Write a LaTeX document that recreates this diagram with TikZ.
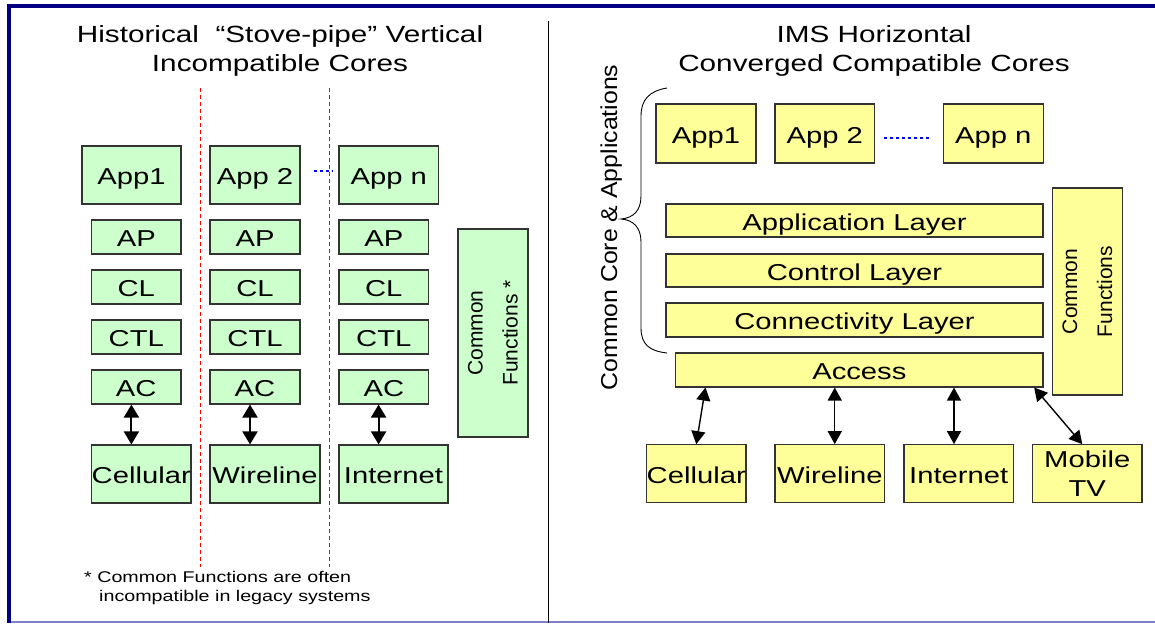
\documentclass[tikz,border=0pt]{standalone}
\usepackage{fontspec}
\setmainfont{Liberation Sans}
\newfontfamily\wf{Liberation Sans}[FakeStretch=1.27]
\newfontfamily\cf{Liberation Sans}[FakeStretch=1.08]
\usetikzlibrary{arrows.meta,calc}
\definecolor{lgreen}{HTML}{CCFFCC}
\definecolor{lyellow}{HTML}{FFFF99}
\definecolor{navyb}{HTML}{000080}
\definecolor{lav}{HTML}{8080C8}
\definecolor{edge}{HTML}{333333}
\definecolor{dashred}{HTML}{FF0000}
\definecolor{dashblue}{HTML}{0000FF}
\begin{document}
\begin{tikzpicture}[x=1pt,y=-1pt,
  base/.style={draw=edge, line width=1.1pt, inner sep=0pt, align=center},
  boxtxt/.style={font=\wf\fontsize{23}{29}\selectfont, text height=19.6pt, text depth=0pt},
  gbox/.style={base, boxtxt, fill=lgreen},
  ybox/.style={base, boxtxt, fill=lyellow},
  rotbox/.style={base, rotate=90, font=\fontsize{21}{35}\selectfont},
  titletxt/.style={inner sep=0pt, align=center, font=\wf\fontsize{23.4}{29}\selectfont},
  dblL/.style={{Triangle[width=15pt,length=13pt]}-{Triangle[width=15pt,length=13pt]}, line width=2pt},
  dblR/.style={{Triangle[width=14pt,length=13pt]}-{Triangle[width=14pt,length=13pt]}, line width=1.4pt},
  reddash/.style={draw=dashred, line width=1.2pt, dash pattern=on 4pt off 3pt},
  bluedash/.style={draw=dashblue, line width=1.2pt, dash pattern=on 3pt off 3pt}
]
\useasboundingbox (0,0) rectangle (1155,623);
\fill[white] (0,0) rectangle (1155,623);
% frame
\draw[navyb, line width=3.5pt] (7,6) -- (1155,6);
\draw[navyb, line width=4pt] (9,4.5) -- (9,623);
\draw[lav, line width=1.2pt] (11,622) -- (1155,622);
\draw[black, line width=0.9pt] (548,21) -- (548,623);

% ---------- left panel ----------
\node[titletxt] (tL) at (280,51.1) {Historical\ \ “Stove-pipe” Vertical\\Incompatible Cores};

\draw[reddash] (200.5,88) -- (200.5,567);
\draw[reddash] (329.5,88) -- (329.5,567);

\node[gbox, minimum width=99pt, minimum height=58pt] (App1) at (131.5,175) {App1};
\node[gbox, minimum width=90pt, minimum height=58pt] (App2) at (255,175) {App 2};
\node[gbox, minimum width=99.6pt, minimum height=58pt] (Appn) at (388.8,175) {App n};

\foreach \r/\t/\y in {AP/AP/237, CL/CL/287, CTL/CTL/337, AC/AC/387}{
  \node[gbox, minimum width=89.5pt, minimum height=34pt] (\r1) at (136.25,\y) {\t};
  \node[gbox, minimum width=90pt, minimum height=34pt] (\r2) at (255,\y) {\t};
  \node[gbox, minimum width=89.6pt, minimum height=34pt] (\r3) at (383.8,\y) {\t};
}

\node[gbox, minimum width=99.5pt, minimum height=58pt] (Cell1) at (141.25,474) {Cellular};
\node[gbox, minimum width=110pt, minimum height=58pt] (Wire1) at (265,474) {Wireline};
\node[gbox, minimum width=109pt, minimum height=58pt] (Inet1) at (393.5,474) {Internet};

\draw[bluedash] ($(App2.east)+(13pt,4pt)$) -- ($(Appn.west)+(-5pt,4pt)$);

\coordinate (la1) at ([xshift=-4.85pt]AC1.south);
\coordinate (la2) at ([xshift=-5pt]AC2.south);
\coordinate (la3) at ([xshift=-5.2pt]AC3.south);
\draw[dblL] (la1) -- (la1 |- Cell1.north);
\draw[dblL] (la2) -- (la2 |- Wire1.north);
\draw[dblL] (la3) -- (la3 |- Inet1.north);

\node[rotbox, fill=lgreen, minimum width=208pt, minimum height=70pt] (CFL) at (493,333) {Common\\Functions *};

\node[inner sep=0pt, anchor=north west, align=left, font=\wf\fontsize{15.5}{19}\selectfont] (note) at (84,571.4)
  {* Common Functions are often\\\hspace*{15pt}incompatible in legacy systems};

% ---------- right panel ----------
\node[titletxt] (tR) at (874,51.1) {IMS Horizontal\\Converged Compatible Cores};

\node[ybox, minimum width=100pt, minimum height=59pt] (App1R) at (706,133.5) {App1};
\node[ybox, minimum width=99.6pt, minimum height=59pt] (App2R) at (824.8,133.5) {App 2};
\node[ybox, minimum width=99.7pt, minimum height=59pt] (AppnR) at (993.2,133.5) {App n};
\draw[bluedash] ($(App2R.east)+(9pt,-4.5pt)$) -- ($(AppnR.west)+(-11pt,-4.5pt)$);

\node[ybox, minimum width=377pt, minimum height=33pt] (AppL) at (854.5,220.5) {Application Layer};
\node[ybox, minimum width=377pt, minimum height=33pt] (CtlL) at (854.5,270.5) {Control Layer};
\node[ybox, minimum width=377pt, minimum height=34pt] (ConL) at (854.5,320) {Connectivity Layer};
\node[ybox, minimum width=367.3pt, minimum height=34pt] (Access) at (859.35,370) {Access};

\node[rotbox, fill=lyellow, minimum width=207pt, minimum height=70pt] (CFR) at (1087.5,291.5) {Common\\Functions};

\node[ybox, minimum width=99.5pt, minimum height=58pt] (CellR) at (696.25,473.7) {Cellular};
\node[ybox, minimum width=109.5pt, minimum height=58pt] (WireR) at (829.75,473.7) {Wireline};
\node[ybox, minimum width=109.5pt, minimum height=58pt] (InetR) at (958.75,473.7) {Internet};
\node[base, fill=lyellow, font=\wf\fontsize{23}{29}\selectfont, minimum width=109.5pt, minimum height=58pt] (MobR) at (1087.25,473.7) {Mobile\\TV};

\coordinate (ra1) at ($(Access.south west)+(30.3pt,0pt)$);
\coordinate (ra2) at ([xshift=5pt]WireR.north);
\coordinate (ra3) at ([xshift=-4.75pt]InetR.north);
\draw[dblR] (ra1) -- (CellR.north);
\draw[dblR] (ra2 |- Access.south) -- (ra2);
\draw[dblR] (ra3 |- Access.south) -- (ra3);
\draw[dblR] ([xshift=-9.4pt]Access.south east) -- ([xshift=-5pt]MobR.north);

% brace
\draw[black, line width=0.9pt] (667,88) .. controls (649,91) and (641,100) .. (641,116)
  -- (641,196) .. controls (641,211) and (633,218) .. (621,219)
  .. controls (633,220) and (641,227) .. (641,242)
  -- (641,328) .. controls (641,344) and (649,351) .. (667,353);
\node[inner sep=0pt, anchor=base, rotate=90, font=\cf\fontsize{23}{28}\selectfont] (cca) at (617,227.5) {Common Core \& Applications};
\end{tikzpicture}
\end{document}
